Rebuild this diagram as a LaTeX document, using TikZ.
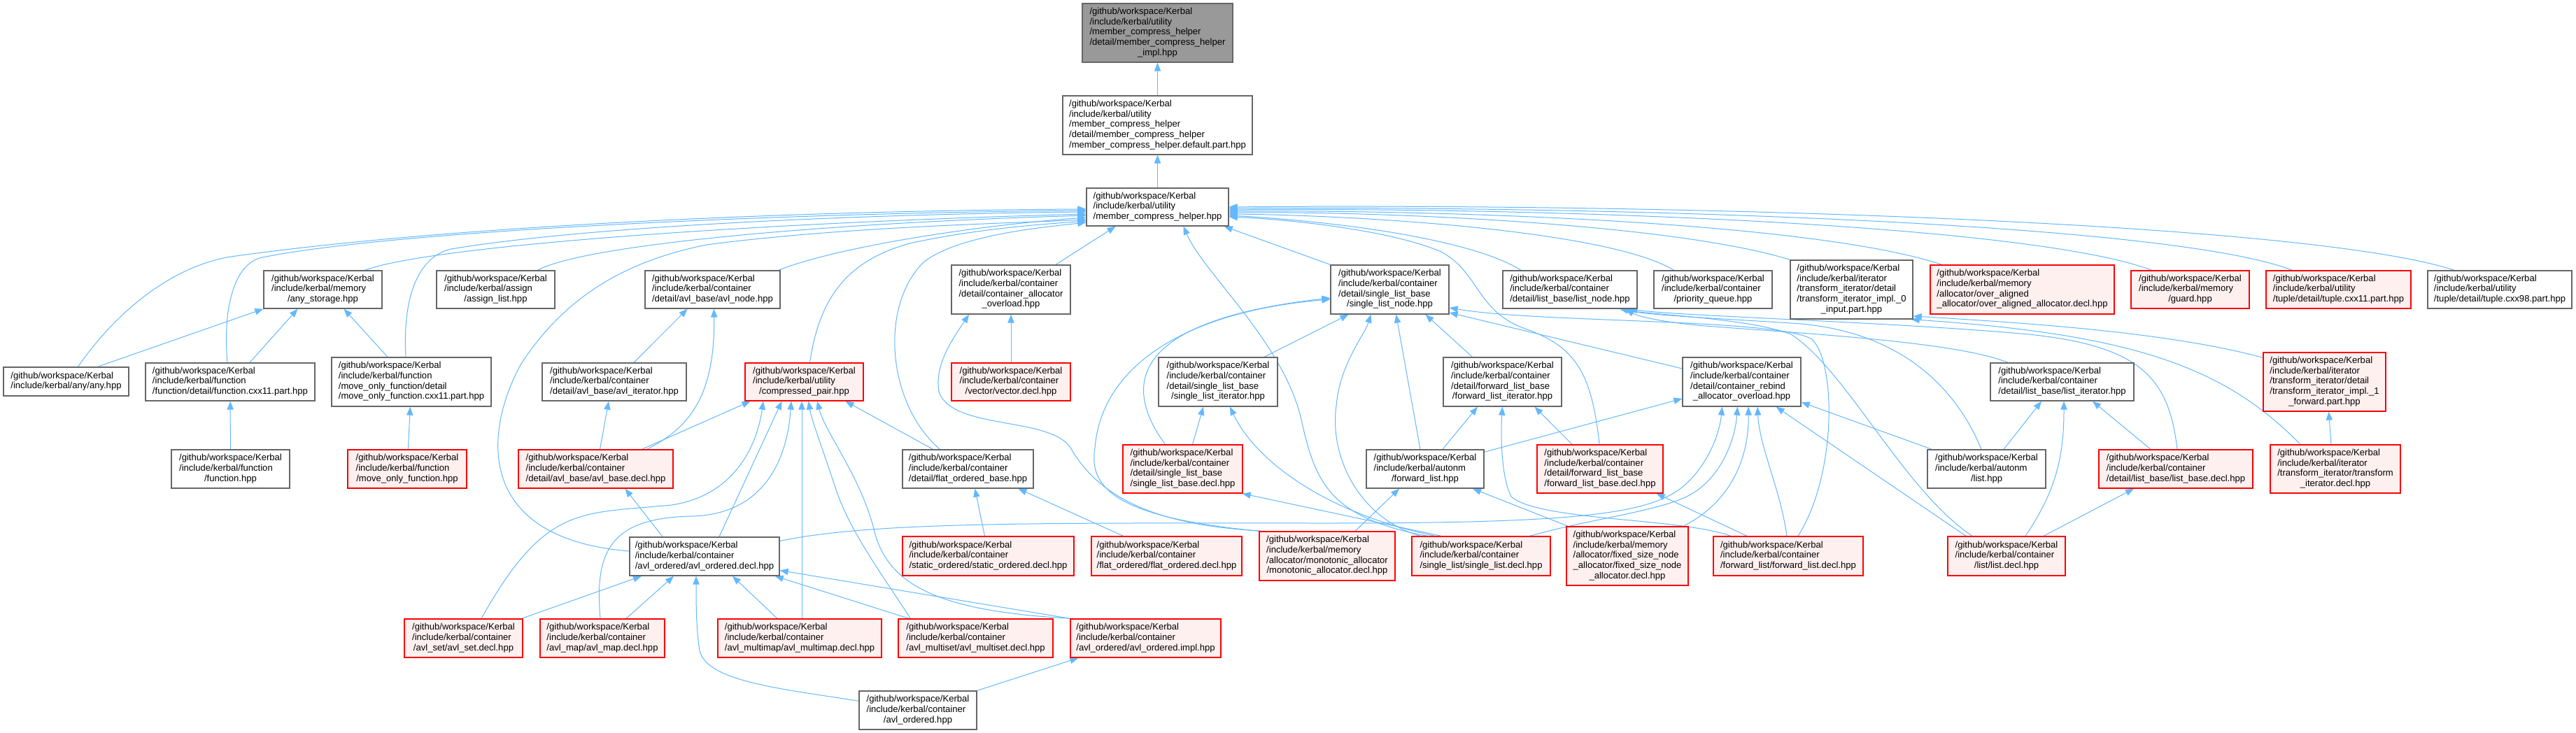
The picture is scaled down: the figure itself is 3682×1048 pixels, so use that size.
\documentclass[tikz,border=0pt]{standalone}
\usepackage{fontspec}
\setmainfont{Liberation Sans}
\usetikzlibrary{arrows.meta,calc,backgrounds}
\definecolor{edgeblue}{HTML}{63B8FF}
\definecolor{nodeborder}{HTML}{666666}
\definecolor{redfill}{HTML}{FFF0F0}
\definecolor{grayfill}{HTML}{999999}
\newcommand{\dlab}[2]{\begin{tabular}{@{}l@{}}#1\\\multicolumn{1}{@{}c@{}}{#2}\end{tabular}}
\newcommand{\gwk}{/github/workspace/Kerbal}
\newcommand{\ikc}{/include/kerbal/container}
\begin{document}
\begin{tikzpicture}[x=0.75pt,y=-0.75pt,
  nbox/.style={draw=nodeborder, fill=white, line width=1pt, inner sep=0pt, font=\fontsize{9.8}{11}\selectfont},
  rbox/.style={nbox, draw=red, fill=redfill},
  gbox/.style={nbox, fill=grayfill},
  sz/.style 2 args={minimum width=#1*0.75pt, minimum height=#2*0.75pt},
  dep/.style={draw=edgeblue, line width=0.75pt, -{Triangle[length=9pt,width=7pt]}}]
\useasboundingbox (0,0) rectangle (3682,1048);
% row 0-2
\node[gbox, sz={215}{84}] (n0) at (1654.5,47) {\dlab{\gwk\\/include/kerbal/utility\\/member\_compress\_helper\\/detail/member\_compress\_helper}{\_impl.hpp}};
\node[nbox, sz={271}{84}] (n1) at (1654.5,179) {\dlab{\gwk\\/include/kerbal/utility\\/member\_compress\_helper\\/detail/member\_compress\_helper}{/member\_compress\_helper.default.part.hpp}};
\node[nbox, sz={203}{54}] (n2) at (1654.5,296) {\dlab{\gwk\\/include/kerbal/utility}{/member\_compress\_helper.hpp}};
% row 3
\node[nbox, sz={169}{54}] (anystorage) at (461.5,414) {\dlab{\gwk\\/include/kerbal/memory}{/any\_storage.hpp}};
\node[nbox, sz={169}{54}] (assign) at (708.5,414) {\dlab{\gwk\\/include/kerbal/assign}{/assign\_list.hpp}};
\node[nbox, sz={193}{54}] (avlnode) at (1018.5,414) {\dlab{\gwk\\\ikc}{/detail/avl\_base/avl\_node.hpp}};
\node[nbox, sz={170}{70}] (cao) at (1445,414) {\dlab{\gwk\\\ikc\\/detail/container\_allocator}{\_overload.hpp}};
\node[nbox, sz={169}{70}] (sln) at (1986.5,414) {\dlab{\gwk\\\ikc\\/detail/single\_list\_base}{/single\_list\_node.hpp}};
\node[nbox, sz={192}{54}] (lnode) at (2244,414) {\dlab{\gwk\\\ikc}{/detail/list\_base/list\_node.hpp}};
\node[nbox, sz={169}{54}] (pq) at (2448.5,414) {\dlab{\gwk\\\ikc}{/priority\_queue.hpp}};
\node[nbox, sz={175}{84}] (ti0) at (2646.5,414) {\dlab{\gwk\\/include/kerbal/iterator\\/transform\_iterator/detail\\/transform\_iterator\_impl.\_0}{\_input.part.hpp}};
\node[rbox, sz={263}{70}] (oaa) at (2890.5,414) {\dlab{\gwk\\/include/kerbal/memory\\/allocator/over\_aligned}{\_allocator/over\_aligned\_allocator.decl.hpp}};
\node[rbox, sz={169}{54}] (guard) at (3130.5,414) {\dlab{\gwk\\/include/kerbal/memory}{/guard.hpp}};
\node[rbox, sz={207}{54}] (tup11) at (3342.5,414) {\dlab{\gwk\\/include/kerbal/utility}{/tuple/detail/tuple.cxx11.part.hpp}};
\node[nbox, sz={206}{54}] (tup98) at (3573,414) {\dlab{\gwk\\/include/kerbal/utility}{/tuple/detail/tuple.cxx98.part.hpp}};
% row 4
\node[nbox, sz={179}{41}] (any) at (94.5,545.5) {\dlab{\gwk}{/include/kerbal/any/any.hpp}};
\node[nbox, sz={242}{54}] (fcx11) at (329,546) {\dlab{\gwk\\/include/kerbal/function}{/function/detail/function.cxx11.part.hpp}};
\node[nbox, sz={228}{70}] (mofcx11) at (588,546) {\dlab{\gwk\\/include/kerbal/function\\/move\_only\_function/detail}{/move\_only\_function.cxx11.part.hpp}};
\node[nbox, sz={206}{54}] (avliter) at (878,546) {\dlab{\gwk\\\ikc}{/detail/avl\_base/avl\_iterator.hpp}};
\node[rbox, sz={169}{54}] (cp) at (1149.5,546) {\dlab{\gwk\\/include/kerbal/utility}{/compressed\_pair.hpp}};
\node[rbox, sz={170}{54}] (vec) at (1445,546) {\dlab{\gwk\\\ikc}{/vector/vector.decl.hpp}};
\node[nbox, sz={170}{70}] (sli) at (1741,546) {\dlab{\gwk\\\ikc\\/detail/single\_list\_base}{/single\_list\_iterator.hpp}};
\node[nbox, sz={169}{70}] (fli) at (2147.5,546) {\dlab{\gwk\\\ikc\\/detail/forward\_list\_base}{/forward\_list\_iterator.hpp}};
\node[nbox, sz={169}{70}] (crao) at (2489.5,546) {\dlab{\gwk\\\ikc\\/detail/container\_rebind}{\_allocator\_overload.hpp}};
\node[nbox, sz={205}{54}] (liter) at (2947.5,546) {\dlab{\gwk\\\ikc}{/detail/list\_base/list\_iterator.hpp}};
\node[rbox, sz={175}{84}] (ti1) at (3322.5,546) {\dlab{\gwk\\/include/kerbal/iterator\\/transform\_iterator/detail\\/transform\_iterator\_impl.\_1}{\_forward.part.hpp}};
% row 5
\node[nbox, sz={169}{55}] (func) at (329.5,670.5) {\dlab{\gwk\\/include/kerbal/function}{/function.hpp}};
\node[rbox, sz={170}{55}] (mof) at (582,670.5) {\dlab{\gwk\\/include/kerbal/function}{/move\_only\_function.hpp}};
\node[rbox, sz={221}{55}] (avlbase) at (851.5,670.5) {\dlab{\gwk\\\ikc}{/detail/avl\_base/avl\_base.decl.hpp}};
\node[nbox, sz={187}{55}] (fob) at (1383.5,670.5) {\dlab{\gwk\\\ikc}{/detail/flat\_ordered\_base.hpp}};
\node[rbox, sz={171}{69}] (slbd) at (1690.5,670.5) {\dlab{\gwk\\\ikc\\/detail/single\_list\_base}{/single\_list\_base.decl.hpp}};
\node[nbox, sz={168}{55}] (afl) at (2037,670.5) {\dlab{\gwk\\/include/kerbal/autonm}{/forward\_list.hpp}};
\node[rbox, sz={180}{69}] (flbd) at (2287,670.5) {\dlab{\gwk\\\ikc\\/detail/forward\_list\_base}{/forward\_list\_base.decl.hpp}};
\node[nbox, sz={169}{55}] (alist) at (2839.5,670.5) {\dlab{\gwk\\/include/kerbal/autonm}{/list.hpp}};
\node[rbox, sz={220}{55}] (lbd) at (3110,670.5) {\dlab{\gwk\\\ikc}{/detail/list\_base/list\_base.decl.hpp}};
\node[rbox, sz={186}{69}] (tid) at (3338,670.5) {\dlab{\gwk\\/include/kerbal/iterator\\/transform\_iterator/transform}{\_iterator.decl.hpp}};
% row 6
\node[nbox, sz={214}{55}] (aod) at (1007,795.5) {\dlab{\gwk\\\ikc}{/avl\_ordered/avl\_ordered.decl.hpp}};
\node[rbox, sz={245}{56}] (sod) at (1412.5,795) {\dlab{\gwk\\\ikc}{/static\_ordered/static\_ordered.decl.hpp}};
\node[rbox, sz={215}{56}] (fod) at (1667.5,795) {\dlab{\gwk\\\ikc}{/flat\_ordered/flat\_ordered.decl.hpp}};
\node[rbox, sz={194}{70}] (mono) at (1897,795) {\dlab{\gwk\\/include/kerbal/memory\\/allocator/monotonic\_allocator}{/monotonic\_allocator.decl.hpp}};
\node[rbox, sz={198}{56}] (sld) at (2117,795) {\dlab{\gwk\\\ikc}{/single\_list/single\_list.decl.hpp}};
\node[rbox, sz={174}{84}] (fsn) at (2326,795) {\dlab{\gwk\\/include/kerbal/memory\\/allocator/fixed\_size\_node\\\_allocator/fixed\_size\_node}{\_allocator.decl.hpp}};
\node[rbox, sz={214}{56}] (fld) at (2556,795) {\dlab{\gwk\\\ikc}{/forward\_list/forward\_list.decl.hpp}};
\node[rbox, sz={168}{56}] (ld) at (2868,795) {\dlab{\gwk\\\ikc}{/list/list.decl.hpp}};
% row 7
\node[rbox, sz={169}{55}] (aset) at (662.5,912.5) {\dlab{\gwk\\\ikc}{/avl\_set/avl\_set.decl.hpp}};
\node[rbox, sz={178}{55}] (amap) at (861,912.5) {\dlab{\gwk\\\ikc}{/avl\_map/avl\_map.decl.hpp}};
\node[rbox, sz={234}{55}] (amm) at (1143,912.5) {\dlab{\gwk\\\ikc}{/avl\_multimap/avl\_multimap.decl.hpp}};
\node[rbox, sz={221}{55}] (ams) at (1394.5,912.5) {\dlab{\gwk\\\ikc}{/avl\_multiset/avl\_multiset.decl.hpp}};
\node[rbox, sz={215}{55}] (aoi) at (1637.5,912.5) {\dlab{\gwk\\\ikc}{/avl\_ordered/avl\_ordered.impl.hpp}};
% row 8
\node[nbox, sz={168}{55}] (ao) at (1312,1015.5) {\dlab{\gwk\\\ikc}{/avl\_ordered.hpp}};

\begin{scope}[on background layer]
\fill[white] (0,0) rectangle (3682,1048);
\draw[dep] (n1) -- (n0);
\draw[dep] (n2) -- (n1);
% into n2, left
\draw[dep] ($(any.north)+(17,0)$) .. controls (170,440) and (250,380) .. (330,367) .. controls (650,322) and (1150,301) .. ($(n2.west)+(0,3)$);
\draw[dep] ($(fcx11.north)+(-4,0)$) .. controls (318,440) and (335,376) .. (375,368) .. controls (575,328) and (1150,304) .. ($(n2.west)+(0,5)$);
\draw[dep] ($(mofcx11.north)+(-8,0)$) .. controls (575,420) and (600,366) .. (645,356) .. controls (850,322) and (1250,306) .. ($(n2.west)+(0,7)$);
\draw[dep] ($(anystorage.north)+(60,0)$) .. controls (620,350) and (1100,318) .. ($(n2.west)+(0,10)$);
\draw[dep] ($(assign.north)+(60,0)$) .. controls (830,352) and (1150,320) .. ($(n2.west)+(0,12)$);
\draw[dep] ($(avlnode.north)+(94,0)$) .. controls (1200,352) and (1400,322) .. ($(n2.west)+(0,15)$);
\draw[dep] ($(aod.west)+(0,-7.5)$) .. controls (680,770) and (690,620) .. (745,520) .. controls (810,420) and (900,372) .. (1010,350) .. controls (1200,325) and (1420,320) .. ($(n2.west)+(0,18)$);
\draw[dep] ($(cp.north)+(8,0)$) .. controls (1172,420) and (1215,372) .. (1300,348) .. controls (1400,326) and (1500,320) .. ($(n2.west)+(0,20)$);
\draw[dep] ($(fob.north)+(-40,0)$) .. controls (1270,580) and (1255,440) .. (1320,375) .. controls (1370,335) and (1500,324) .. ($(n2.west)+(0,22)$);
% into n2, bottom
\draw[dep] ($(cao.north)+(64,0)$) -- ($(n2.south)+(-60,0)$);
\draw[dep] ($(sld.north)+(-77,0)$) .. controls (1900,740) and (1880,690) .. (1860,600) .. controls (1835,490) and (1720,390) .. ($(n2.south)+(37,0)$);
\draw[dep] (sln.north west) -- ($(n2.south east)+(-7,0)$);
% into n2, right
\draw[dep] ($(lnode.north)+(-70,0)$) .. controls (2100,340) and (1900,316) .. ($(n2.east)+(0,12)$);
\draw[dep] ($(flbd.north)+(-1,0)$) .. controls (2275,530) and (2250,495) .. (2180,470) .. controls (2110,445) and (2115,390) .. (2060,360) .. controls (1990,330) and (1850,314) .. ($(n2.east)+(0,14)$);
\draw[dep] ($(pq.north)+(-56,0)$) .. controls (2300,330) and (1950,308) .. ($(n2.east)+(0,10)$);
\draw[dep] (ti0.north west) .. controls (2400,322) and (2000,302) .. ($(n2.east)+(0,8)$);
\draw[dep] ($(oaa.north)+(-115,0)$) .. controls (2600,320) and (2100,300) .. ($(n2.east)+(0,6)$);
\draw[dep] ($(guard.north)+(-55,0)$) .. controls (2900,320) and (2200,296) .. ($(n2.east)+(0,4)$);
\draw[dep] ($(tup11.north)+(-66,0)$) .. controls (3100,318) and (2300,294) .. ($(n2.east)+(0,2)$);
\draw[dep] ($(tup98.north)+(-65,0)$) .. controls (3300,318) and (2400,290) .. (n2.east);
% left part
\draw[dep] ($(any.north)+(45,0)$) -- (anystorage.south west);
\draw[dep] ($(fcx11.north)+(28,0)$) -- ($(anystorage.south)+(-36,0)$);
\draw[dep] ($(mofcx11.north)+(-34,0)$) -- ($(anystorage.south)+(30,0)$);
\draw[dep] (func) -- (fcx11);
\draw[dep] (mof) -- (mofcx11);
\draw[dep] ($(avliter.north)+(28,0)$) -- ($(avlnode.south)+(-36,0)$);
\draw[dep] ($(avlbase.north)+(6,0)$) -- ($(avliter.south)+(-8,0)$);
\draw[dep] ($(avlbase.north)+(73,0)$) .. controls (990,610) and (1022,560) .. ($(avlnode.south)+(2,0)$);
\draw[dep] ($(avlbase.north)+(66,0)$) -- ($(cp.south)+(-77,0)$);
\draw[dep] ($(aod.north)+(-60,0)$) -- ($(avlbase.south)+(42,0)$);
\draw[dep] ($(aod.north)+(21,0)$) -- ($(cp.south)+(-32,0)$);
\draw[dep] ($(aod.east)+(0,-22)$) .. controls (1250,745) and (1500,748) .. (1900,748) .. controls (2250,748) and (2350,735) .. (2400,700) .. controls (2440,670) and (2458,620) .. ($(crao.south)+(-28,0)$);
\draw[dep] ($(sod.north)+(-5,0)$) -- ($(fob.south)+(10,0)$);
\draw[dep] ($(fod.north)+(-62,0)$) -- ($(fob.south)+(72,0)$);
\draw[dep] ($(fob.north)+(-50,0)$) -- ($(cp.south)+(59,0)$);
\draw[dep] (vec) -- (cao);
\draw[dep] ($(mono.north west)+(9,0)$) .. controls (1650,752) and (1570,710) .. (1530,640) .. controls (1500,595) and (1360,615) .. (1342,560) .. controls (1335,520) and (1365,480) .. ($(cao.south)+(-60,0)$);
\draw[dep] (mono.north west) .. controls (1600,740) and (1555,700) .. (1565,640) .. controls (1575,520) and (1700,445) .. ($(sln.west)+(0,14)$);
\draw[dep] ($(slbd.north)+(-25,0)$) .. controls (1610,560) and (1600,460) .. ($(sln.west)+(0,12)$);
\draw[dep] ($(sli.north)+(66,0)$) -- ($(sln.south)+(-59,0)$);
\draw[dep] ($(sld.north)+(-87,0)$) .. controls (1940,740) and (1900,650) .. (1910,580) .. controls (1915,520) and (1950,480) .. ($(sln.south)+(-27,0)$);
\draw[dep] ($(afl.north)+(-7,0)$) -- ($(sln.south)+(9,0)$);
\draw[dep] ($(fli.north)+(-43,0)$) -- ($(sln.south)+(51,0)$);
\draw[dep] ($(fld.north)+(14,0)$) .. controls (2625,680) and (2625,520) .. (2590,485) .. controls (2540,455) and (2200,462) .. ($(sln.east)+(0,26)$);
\draw[dep] ($(crao.west)+(0,-19)$) -- ($(sln.east)+(0,33)$);
\draw[dep] ($(slbd.north)+(14,0)$) -- ($(sli.south)+(-21,0)$);
\draw[dep] ($(sld.north)+(-66,0)$) .. controls (1880,730) and (1790,650) .. ($(sli.south)+(17,0)$);
\draw[dep] ($(sld.north)+(-57,0)$) -- ($(slbd.south east)+(-1,0)$);
\draw[dep] ($(sld.north east)+(-30,0)$) .. controls (2280,740) and (2380,730) .. (2420,705) .. controls (2460,680) and (2480,630) .. ($(crao.south)+(-6,0)$);
\draw[dep] ($(fsn.north)+(80,0)$) .. controls (2470,720) and (2500,660) .. ($(crao.south)+(9.5,0)$);
\draw[dep] ($(fsn.north west)+(3,0)$) -- ($(afl.south)+(68,0)$);
\draw[dep] ($(fld.north)+(-2,0)$) .. controls (2545,700) and (2515,640) .. ($(crao.south)+(22.5,0)$);
\draw[dep] ($(fld.north)+(-59,0)$) -- ($(flbd.south east)+(-10,0)$);
\draw[dep] ($(fld.north)+(-82,0)$) .. controls (2400,740) and (2200,745) .. (2160,710) .. controls (2145,680) and (2145,620) .. (fli.south);
\draw[dep] ($(ld.north)+(-58,0)$) -- ($(crao.south east)+(-36,0)$);
\draw[dep] ($(ld.north)+(-49,0)$) .. controls (2720,700) and (2640,530) .. (2560,478) .. controls (2500,455) and (2360,450) .. ($(lnode.south)+(71,0)$);
\draw[dep] ($(alist.north)+(-7.5,0)$) .. controls (2790,540) and (2700,470) .. (2560,462) .. controls (2450,455) and (2350,450) .. ($(lnode.south)+(76,0)$);
\draw[dep] ($(liter.north)+(-77.5,0)$) .. controls (2800,490) and (2600,478) .. (2450,467) .. controls (2380,462) and (2340,452) .. ($(lnode.south)+(80,0)$);
\draw[dep] ($(lbd.north)+(2,0)$) .. controls (3100,540) and (3060,495) .. (2900,478) .. controls (2700,460) and (2400,452) .. ($(lnode.south)+(84,0)$);
\draw[dep] ($(alist.north)+(-78.5,0)$) -- ($(crao.east)+(0,29)$);
\draw[dep] ($(alist.north)+(24.5,0)$) -- ($(liter.south)+(-29.5,0)$);
\draw[dep] ($(ld.north)+(27,0)$) .. controls (2940,700) and (2950,650) .. ($(liter.south)+(2.5,0)$);
\draw[dep] ($(ld.north)+(53,0)$) -- ($(lbd.south)+(-60,0)$);
\draw[dep] ($(lbd.north)+(-36,0)$) -- ($(liter.south)+(43.5,0)$);
\draw[dep] ($(tid.north)+(-6,0)$) -- ($(ti1.south)+(6,0)$);
\draw[dep] ($(tid.north)+(-50,0)$) .. controls (3180,525) and (3050,478) .. ($(ti0.south east)+(-3,0)$);
\draw[dep] ($(ti1.north west)+(0,8)$) .. controls (3100,475) and (2900,462) .. ($(ti0.east)+(0,38)$);
% avl family
\draw[dep] ($(aset.north east)+(-2,0)$) -- ($(aod.south)+(-90,0)$);
\draw[dep] ($(aset.north)+(25.5,0)$) .. controls (780,720) and (830,735) .. (960,722) .. controls (1040,710) and (1080,650) .. ($(cp.south)+(-58.5,0)$);
\draw[dep] ($(amap.north)+(34,0)$) -- ($(aod.south)+(-44,0)$);
\draw[dep] ($(amap.north)+(-3,0)$) .. controls (850,790) and (870,740) .. (990,738) .. controls (1090,735) and (1125,660) .. ($(cp.south)+(-18.5,0)$);
\draw[dep] ($(amm.north)+(-32,0)$) -- ($(aod.south)+(40,0)$);
\draw[dep] ($(amm.north)+(3,0)$) -- ($(cp.south)+(-3.5,0)$);
\draw[dep] ($(ams.north west)+(16,0)$) -- ($(aod.south east)+(-7,0)$);
\draw[dep] ($(ams.north west)+(18,0)$) .. controls (1260,820) and (1215,760) .. (1195,700) .. controls (1175,640) and (1160,600) .. ($(cp.south)+(6,0)$);
\draw[dep] (aoi.north west) -- ($(aod.east)+(0,20)$);
\draw[dep] ($(aoi.north west)+(4,0)$) .. controls (1350,875) and (1270,840) .. (1250,760) .. controls (1230,680) and (1180,620) .. ($(cp.south)+(18.5,0)$);
\draw[dep] ($(ao.north west)+(0,15)$) .. controls (1120,985) and (1010,975) .. (1000,930) .. controls (995,900) and (995,860) .. ($(aod.south)+(-12,0)$);
\draw[dep] (ao.north east) -- ($(aoi.south west)+(12,0)$);
\draw[dep] ($(afl.north)+(25,0)$) -- ($(fli.south)+(-35.5,0)$);
\draw[dep] ($(afl.north east)+(0,4)$) -- ($(crao.west)+(0,24)$);
\draw[dep] ($(flbd.north)+(-40,0)$) -- ($(fli.south)+(46,0)$);
\draw[dep] ($(mono.north)+(40,0)$) -- ($(afl.south)+(-37,0)$);
\end{scope}
\end{tikzpicture}
\end{document}
